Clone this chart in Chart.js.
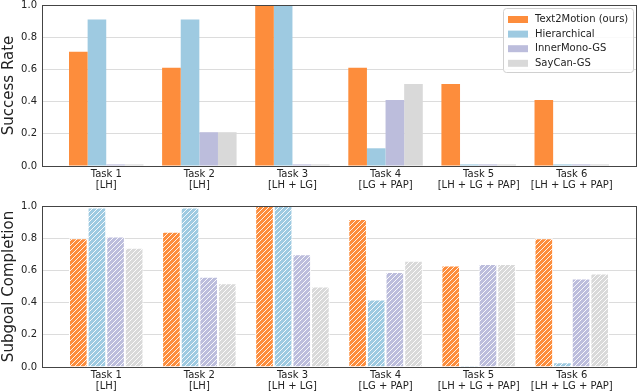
<!DOCTYPE html>
<html>
<head>
<meta charset="utf-8">
<script src="https://cdn.jsdelivr.net/npm/chart.js@4"></script>
<style>
  body { margin: 0; background: #fff; width: 640px; height: 392px; overflow: hidden; }
  canvas { display: block; }
</style>
</head>
<body>
<canvas id="top" width="640" height="196"></canvas>
<canvas id="bottom" width="640" height="196"></canvas>
<script>
// data
const taskPos = [0, 1, 2, 3, 4, 5];
const taskLabels = [
  ['Task 1', '[LH]'],
  ['Task 2', '[LH]'],
  ['Task 3', '[LH + LG]'],
  ['Task 4', '[LG + PAP]'],
  ['Task 5', '[LH + LG + PAP]'],
  ['Task 6', '[LH + LG + PAP]'],
];
const methods = ['Text2Motion (ours)', 'Hierarchical', 'InnerMono-GS', 'SayCan-GS'];
const colors = ['#fd8d3c', '#9ecae1', '#bcbddc', '#d9d9d9'];

// success rate
const successText2Motion = [0.71, 0.61, 1.0, 0.61, 0.51, 0.41];
const successHierarchical = [0.91, 0.91, 1.0, 0.11, 0.01, 0.01];
const successInnerMono = [0.01, 0.21, 0.01, 0.41, 0.01, 0.01];
const successSayCan = [0.01, 0.21, 0.01, 0.51, 0.01, 0.01];

// subgoal completion
const subgoalText2Motion = [0.80, 0.84, 1.0, 0.92, 0.63, 0.80];
const subgoalHierarchical = [0.99, 0.99, 1.0, 0.42, 0.01, 0.03];
const subgoalInnerMono = [0.81, 0.56, 0.70, 0.59, 0.64, 0.55];
const subgoalSayCan = [0.74, 0.52, 0.50, 0.66, 0.64, 0.58];

const FONT = "'DejaVu Sans', sans-serif";

function hatch(ctx, color) {
  const s = 5;
  const c = document.createElement('canvas');
  c.width = s; c.height = s;
  const g = c.getContext('2d');
  g.fillStyle = color;
  g.fillRect(0, 0, s, s);
  g.strokeStyle = 'rgba(255,255,255,0.9)';
  g.lineWidth = 1;
  g.beginPath();
  g.moveTo(0, s); g.lineTo(s, 0);
  g.moveTo(-1, 1); g.lineTo(1, -1);
  g.moveTo(s - 1, s + 1); g.lineTo(s + 1, s - 1);
  g.stroke();
  return ctx.createPattern(c, 'repeat');
}

const framePlugin = {
  id: 'frame',
  afterDraw(chart) {
    const { ctx, chartArea: a } = chart;
    ctx.save();
    ctx.strokeStyle = '#444';
    ctx.lineWidth = 1;
    ctx.strokeRect(Math.round(a.left) + 0.5, Math.round(a.top) + 0.5,
      Math.round(a.right - a.left), Math.round(a.bottom - a.top));
    ctx.restore();
  }
};

const legendPlugin = {
  id: 'boxLegend',
  afterDraw(chart) {
    const ctx = chart.ctx;
    const x = 503, y = 8, w = 130, h = 64;
    ctx.save();
    ctx.fillStyle = 'rgba(255,255,255,0.85)';
    ctx.strokeStyle = '#d0d0d0';
    ctx.lineWidth = 1;
    ctx.beginPath();
    ctx.roundRect(x + 0.5, y + 0.5, w, h, 3);
    ctx.fill();
    ctx.stroke();
    ctx.font = '10px ' + FONT;
    ctx.textBaseline = 'middle';
    methods.forEach((m, i) => {
      const cy = y + 11.5 + i * 14.6;
      ctx.fillStyle = colors[i];
      ctx.fillRect(508, cy - 3.5, 20, 7);
      ctx.fillStyle = '#222';
      ctx.fillText(m, 535, cy);
    });
    ctx.restore();
  }
};

function pts(vals) {
  return vals.map((v, i) => ({ x: taskPos[i], y: v }));
}

function noPad(s) {
  s.paddingTop = 0; s.paddingBottom = 0; s.paddingLeft = 0; s.paddingRight = 0;
}

function makeChart(id, series, title, topPad, xHeight, hatched, extraPlugins) {
  const canvas = document.getElementById(id);
  const ctx = canvas.getContext('2d');
  return new Chart(canvas, {
    type: 'bar',
    data: {
      datasets: series.map((vals, i) => ({
        label: methods[i],
        data: pts(vals),
        backgroundColor: hatched ? hatch(ctx, colors[i]) : colors[i],
        borderColor: '#fff',
        borderWidth: hatched ? 1 : 0,
        barPercentage: 1.0,
        categoryPercentage: 0.8,
      })),
    },
    options: {
      responsive: false,
      animation: false,
      devicePixelRatio: 1,
      layout: { padding: { top: topPad, right: 4, left: 0, bottom: 0 } },
      plugins: { legend: { display: false }, tooltip: { enabled: false } },
      scales: {
        x: {
          type: 'linear',
          min: -0.69,
          max: 5.69,
          offset: false,
          grid: { display: false, drawTicks: false },
          border: { display: false },
          afterBuildTicks: s => { s.ticks = taskPos.map(v => ({ value: v })); },
          afterFit: s => { s.height = xHeight; noPad(s); },
          ticks: {
            padding: 3,
            color: '#222',
            font: { family: FONT, size: 10, lineHeight: 1.1 },
            maxRotation: 0,
            autoSkip: false,
            callback: v => taskLabels[v],
          },
        },
        y: {
          min: 0,
          max: 1,
          grid: { color: '#dcdcdc', drawTicks: false },
          border: { display: false },
          afterFit: s => { s.width = 42; noPad(s); },
          ticks: {
            stepSize: 0.2,
            padding: 5,
            color: '#222',
            font: { family: FONT, size: 10 },
            callback: v => v.toFixed(1),
          },
          title: {
            display: true,
            text: title,
            color: '#222',
            padding: 0,
            font: { family: FONT, size: 15 },
          },
        },
      },
    },
    plugins: [framePlugin, ...extraPlugins],
  });
}

makeChart('top',
  [successText2Motion, successHierarchical, successInnerMono, successSayCan],
  'Success Rate', 5, 30, false, [legendPlugin]);

makeChart('bottom',
  [subgoalText2Motion, subgoalHierarchical, subgoalInnerMono, subgoalSayCan],
  'Subgoal Completion', 10, 25, true, []);
</script>
</body>
</html>
